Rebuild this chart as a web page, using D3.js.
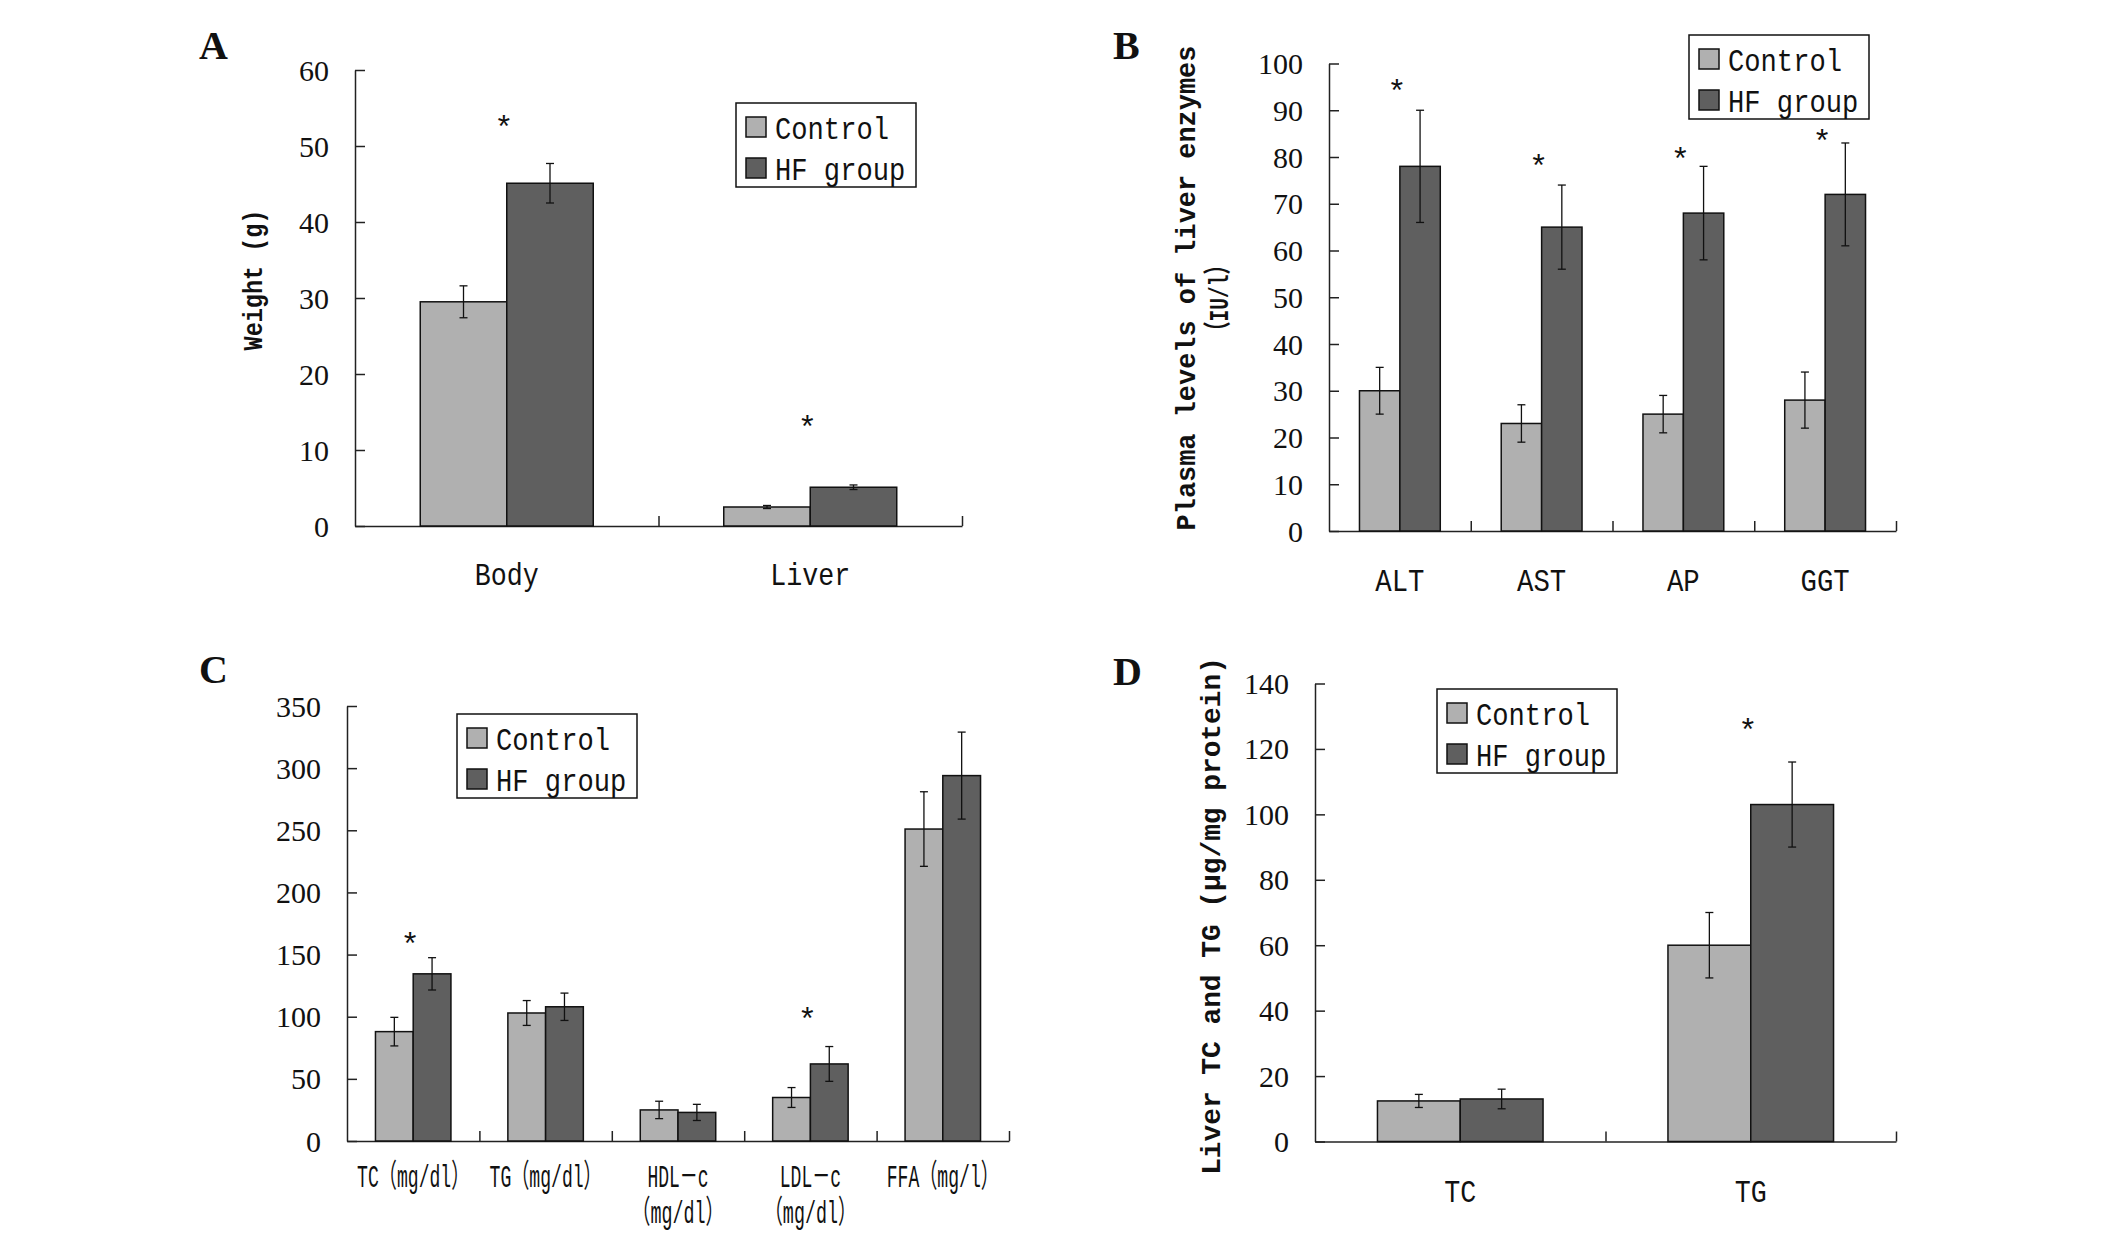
<!DOCTYPE html>
<html>
<head>
<meta charset="utf-8">
<script src="https://cdn.jsdelivr.net/npm/d3@7"></script>
<style>
  body { margin: 0; background: #fff; }
  text { fill: #111; }
</style>
</head>
<body>
<div id="chart"></div>
<script>
// series names shared by every panel
const groups = ['Control', 'HF group'];

// A - body and liver weight
const catsA = [['Body'], ['Liver']];
const ticksA = [0, 10, 20, 30, 40, 50, 60];
const ctrlA = [29.5, 2.5];
const ctrlErrA = [2.1, 0.2];
const hfA = [45.1, 5.1];
const hfErrA = [2.6, 0.3];
const starA = [53, 13.5];

// B - plasma liver enzymes
const catsB = [['ALT'], ['AST'], ['AP'], ['GGT']];
const ticksB = [0, 10, 20, 30, 40, 50, 60, 70, 80, 90, 100];
const ctrlB = [30, 23, 25, 28];
const ctrlErrB = [5, 4, 4, 6];
const hfB = [78, 65, 68, 72];
const hfErrB = [12, 9, 10, 11];
const starB = [95, 79, 80.5, 84.3];

// C - serum lipids
const catsC = [['TC（mg/dl）'], ['TG（mg/dl）'], ['HDL－c', '（mg/dl）'], ['LDL－c', '（mg/dl）'], ['FFA（mg/l）']];
const ticksC = [0, 50, 100, 150, 200, 250, 300, 350];
const ctrlC = [88, 103, 25, 35, 251];
const ctrlErrC = [11.5, 10, 7, 8, 30];
const hfC = [134.5, 108, 23, 62, 294];
const hfErrC = [13, 11, 6.5, 14, 35];
const starC = [161.5, null, null, 101, null];

// D - liver TC and TG
const catsD = [['TC'], ['TG']];
const ticksD = [0, 20, 40, 60, 80, 100, 120, 140];
const ctrlD = [12.4, 60];
const ctrlErrD = [2, 10];
const hfD = [13, 103];
const hfErrD = [3, 13];
const starD = [null, 127];

const colors = { 'Control': '#b0b0b0', 'HF group': '#5f5f5f' };
const mono = '"Liberation Mono", "Noto Sans CJK SC", monospace';
const serif = '"Liberation Serif", serif';

const svg = d3.select('#chart')
  .append('svg')
  .attr('width', 2126)
  .attr('height', 1237)
  .style('background', '#fff');

// count half-width cells, fullwidth chars take two
function cells(s) {
  let n = 0;
  for (const ch of s) n += ch.charCodeAt(0) > 0x2000 ? 2 : 1;
  return n;
}

// squeeze a text (placed at origin) to a given width, keeping its height
function squeeze(sel, tx, ty, width, rot) {
  sel.each(function () {
    const w = this.getComputedTextLength();
    const sx = width / w;
    d3.select(this).attr('transform',
      `translate(${tx},${ty})` + (rot ? ` rotate(${rot})` : '') + ` scale(${sx},1)`);
  });
}

function drawPanel(p) {
  const g = svg.append('g');

  const x = d3.scaleBand()
    .domain(p.cats.map((d, i) => i))
    .range([p.x0, p.x1])
    .paddingInner(0.43)
    .paddingOuter(0.215);

  const xs = d3.scaleBand()
    .domain(groups)
    .range([0, x.bandwidth()]);

  const y = d3.scaleLinear()
    .domain([0, p.max])
    .range([p.y0, p.y1]);

  // y axis with ticks pointing inside
  const yAxis = g.append('g')
    .attr('transform', `translate(${p.x0},0)`)
    .call(d3.axisRight(y).tickValues(p.ticks).tickSize(10).tickSizeOuter(0).tickFormat(''));

  // x axis: ticks on the category borders
  const edges = d3.scaleLinear().domain([0, p.cats.length]).range([p.x0, p.x1]);
  const xAxis = g.append('g')
    .attr('transform', `translate(0,${p.y0})`)
    .call(d3.axisTop(edges).tickValues(d3.range(1, p.cats.length + 1)).tickSize(10).tickSizeOuter(0).tickFormat(''));

  [yAxis, xAxis].forEach(a => {
    a.selectAll('path, line').attr('stroke', '#222').attr('stroke-width', 1.5);
  });

  // tick labels
  g.append('g')
    .selectAll('text')
    .data(p.ticks)
    .join('text')
    .attr('x', p.x0 - 26)
    .attr('y', d => y(d))
    .attr('dy', '0.35em')
    .attr('text-anchor', 'end')
    .style('font-family', serif)
    .style('font-size', '30px')
    .text(d => d);

  // bars
  const rows = p.cats.map((c, i) => groups.map((grp, j) => ({
    i: i,
    grp: grp,
    v: j === 0 ? p.ctrl[i] : p.hf[i],
    e: j === 0 ? p.ctrlErr[i] : p.hfErr[i]
  }))).flat();

  g.append('g')
    .selectAll('rect')
    .data(rows)
    .join('rect')
    .attr('x', d => x(d.i) + xs(d.grp))
    .attr('y', d => y(d.v))
    .attr('width', xs.bandwidth())
    .attr('height', d => p.y0 - y(d.v))
    .attr('fill', d => colors[d.grp])
    .attr('stroke', '#111')
    .attr('stroke-width', 1.5);

  // error bars
  const err = g.append('g')
    .selectAll('g')
    .data(rows)
    .join('g')
    .attr('transform', d => `translate(${x(d.i) + xs(d.grp) + xs.bandwidth() / 2},0)`)
    .attr('stroke', '#111')
    .attr('stroke-width', 1.3);

  err.append('line')
    .attr('y1', d => y(d.v - d.e))
    .attr('y2', d => y(d.v + d.e));
  err.append('line')
    .attr('x1', -4).attr('x2', 4)
    .attr('y1', d => y(d.v - d.e))
    .attr('y2', d => y(d.v - d.e));
  err.append('line')
    .attr('x1', -4).attr('x2', 4)
    .attr('y1', d => y(d.v + d.e))
    .attr('y2', d => y(d.v + d.e));

  // significance stars
  g.append('g')
    .selectAll('text')
    .data(p.stars.map((s, i) => ({ s: s, i: i })).filter(d => d.s !== null))
    .join('text')
    .attr('x', d => x(d.i) + x.bandwidth() / 2 - 3)
    .attr('y', d => y(d.s) + 15)
    .attr('text-anchor', 'middle')
    .style('font-family', mono)
    .style('font-size', '32px')
    .text('*');

  // category labels, one text per line
  const lines = p.cats.map((c, i) => c.map((t, k) => ({ t: t, k: k, i: i }))).flat();
  g.append('g')
    .selectAll('text')
    .data(lines)
    .join('text')
    .attr('text-anchor', 'middle')
    .style('font-family', mono)
    .style('font-size', '32px')
    .text(d => d.t)
    .each(function (d) {
      squeeze(d3.select(this), x(d.i) + x.bandwidth() / 2, p.labelY + d.k * 36, cells(d.t) * p.charW);
    });

  // legend
  const lg = g.append('g').attr('transform', `translate(${p.legend[0]},${p.legend[1]})`);
  lg.append('rect')
    .attr('width', 180)
    .attr('height', 84)
    .attr('fill', '#fff')
    .attr('stroke', '#111')
    .attr('stroke-width', 1.5);
  const item = lg.selectAll('g')
    .data(groups)
    .join('g')
    .attr('transform', (d, i) => `translate(10,${24 + i * 41})`);
  item.append('rect')
    .attr('y', -10)
    .attr('width', 20)
    .attr('height', 20)
    .attr('fill', d => colors[d])
    .attr('stroke', '#111')
    .attr('stroke-width', 1.5);
  item.append('text')
    .attr('dy', '0.36em')
    .style('font-family', mono)
    .style('font-size', '32px')
    .text(d => d)
    .each(function (d) {
      squeeze(d3.select(this), 29, 0, cells(d) * 16.3);
    });

  // axis title, rotated
  p.title.forEach(t => {
    g.append('text')
      .attr('text-anchor', 'middle')
      .attr('dominant-baseline', 'central')
      .style('font-family', mono)
      .style('font-weight', 'bold')
      .style('font-size', '28px')
      .text(t.text)
      .call(squeeze, t.x, t.y, t.len, -90);
  });

  // panel letter
  g.append('text')
    .attr('x', p.letterPos[0])
    .attr('y', p.letterPos[1])
    .style('font-family', serif)
    .style('font-weight', 'bold')
    .style('font-size', '40px')
    .text(p.letter);
}

drawPanel({
  letter: 'A', letterPos: [199, 59],
  cats: catsA, ticks: ticksA, max: 60,
  ctrl: ctrlA, ctrlErr: ctrlErrA, hf: hfA, hfErr: hfErrA, stars: starA,
  x0: 355, x1: 962, y0: 526, y1: 70,
  labelY: 585, charW: 16,
  legend: [736, 103],
  title: [{ text: 'Weight (g)', x: 254, y: 280, len: 141 }]
});

drawPanel({
  letter: 'B', letterPos: [1113, 59],
  cats: catsB, ticks: ticksB, max: 100,
  ctrl: ctrlB, ctrlErr: ctrlErrB, hf: hfB, hfErr: hfErrB, stars: starB,
  x0: 1329, x1: 1896, y0: 531, y1: 63.5,
  labelY: 591, charW: 16.4,
  legend: [1689, 35],
  title: [
    { text: 'Plasma levels of liver enzymes', x: 1187, y: 288, len: 485 },
    { text: '（IU/l）', x: 1220, y: 298, len: 86 }
  ]
});

drawPanel({
  letter: 'C', letterPos: [199, 683],
  cats: catsC, ticks: ticksC, max: 350,
  ctrl: ctrlC, ctrlErr: ctrlErrC, hf: hfC, hfErr: hfErrC, stars: starC,
  x0: 347, x1: 1009, y0: 1141, y1: 706,
  labelY: 1187, charW: 10.2,
  legend: [457, 714],
  title: []
});

drawPanel({
  letter: 'D', letterPos: [1113, 685],
  cats: catsD, ticks: ticksD, max: 140,
  ctrl: ctrlD, ctrlErr: ctrlErrD, hf: hfD, hfErr: hfErrD, stars: starD,
  x0: 1315, x1: 1896, y0: 1141.5, y1: 683.5,
  labelY: 1202, charW: 16,
  legend: [1437, 689],
  title: [{ text: 'Liver TC and TG (μg/mg protein)', x: 1212, y: 916, len: 518 }]
});
</script>
</body>
</html>
